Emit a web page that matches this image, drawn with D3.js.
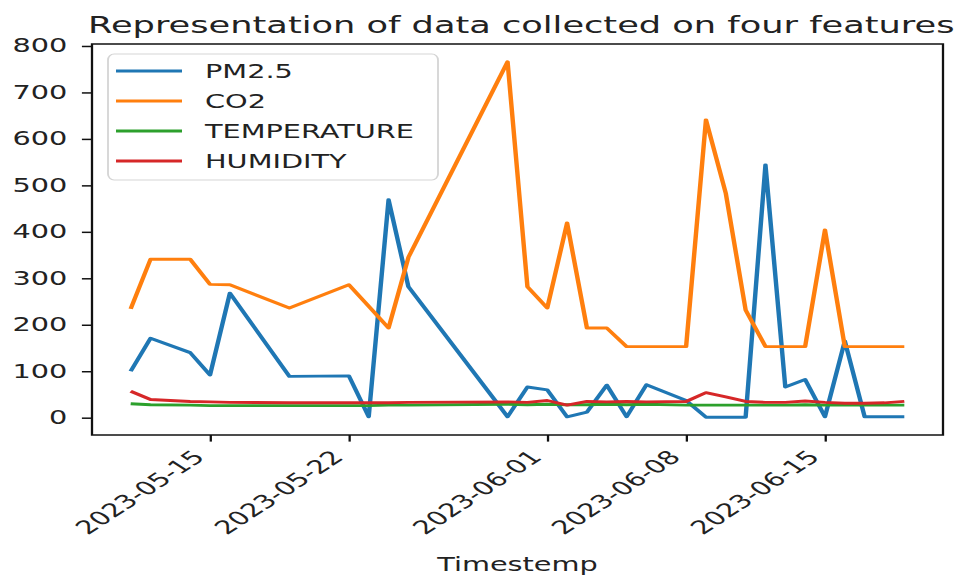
<!DOCTYPE html>
<html>
<head>
<meta charset="utf-8">
<script src="https://cdn.jsdelivr.net/npm/d3@7"></script>
<style>
  html, body { margin: 0; padding: 0; background: #fff; }
  svg { display: block; }
  text { font-family: "DejaVu Sans", sans-serif; fill: #222; }
</style>
</head>
<body>
<svg id="chart" width="973" height="581"></svg>
<script>
// Daily readings of the four sensor features
const dates = ["2023-05-11","2023-05-12","2023-05-14","2023-05-15","2023-05-16","2023-05-19",
  "2023-05-22","2023-05-23","2023-05-24","2023-05-25","2023-05-30","2023-05-31","2023-06-01",
  "2023-06-02","2023-06-03","2023-06-04","2023-06-05","2023-06-06","2023-06-08","2023-06-09",
  "2023-06-10","2023-06-11","2023-06-12","2023-06-13","2023-06-14","2023-06-15","2023-06-16",
  "2023-06-17","2023-06-18","2023-06-19"];
const pm25 = [100,171,140,92,268,89,90,2,469,282,2,66,60,2,12,70,2,71,37,1,1,1,544,66,82,2,165,2,2,2];
const co2 = [234,341,341,287,286,236,286,240,193,345,766,282,236,419,193,193,153,153,153,641,483,232,153,153,153,404,153,153,153,153];
const temperature = [30,28,27,26,26,26,26,26,27,27,29,28,29,28,28,29,28,29,27,27,27,27,27,27,28,27,27,27,27,27];
const humidity = [57,39,35,34,33,32,32,32,32,33,34,33,37,27,35,34,35,34,35,54,45,35,33,33,36,33,31,31,32,35];

const seriesNames = ["PM2.5", "CO2", "TEMPERATURE", "HUMIDITY"];
const seriesColors = ["#1f77b4", "#ff7f0e", "#2ca02c", "#d62728"];
const xTickDates = ["2023-05-15","2023-05-22","2023-06-01","2023-06-08","2023-06-15"];
const yTicks = [0,100,200,300,400,500,600,700,800];
const titleText = "Representation of data collected on four features";
const xLabel = "Timestemp";

// The figure is drawn in a horizontally widened frame
const SX = 1.53;
const plot = { left: 92 / SX, right: 943 / SX, top: 44, bottom: 435 };
const FS = 18.8;

const parse = d3.utcParse("%Y-%m-%d");
const times = dates.map(parse);
const allSeries = [pm25, co2, temperature, humidity];

// 5% margins around the data, like the plotting defaults
const tExt = d3.extent(times);
const tPad = (tExt[1] - tExt[0]) * 0.05;
const x = d3.scaleUtc()
  .domain([new Date(+tExt[0] - tPad), new Date(+tExt[1] + tPad)])
  .range([plot.left, plot.right]);

const vMin = d3.min(allSeries, s => d3.min(s));
const vMax = d3.max(allSeries, s => d3.max(s));
const vPad = (vMax - vMin) * 0.05;
const y = d3.scaleLinear()
  .domain([vMin - vPad, vMax + vPad])
  .range([plot.bottom, plot.top]);

const svg = d3.select("#chart");
const root = svg.append("g").attr("transform", `scale(${SX},1)`);

// Title
root.append("text")
  .attr("x", (plot.left + plot.right) / 2 + 2.5)
  .attr("y", 33)
  .attr("text-anchor", "middle")
  .style("font-size", "23px")
  .text(titleText);

// Data lines
const line = d3.line()
  .x((d, i) => x(times[i]))
  .y(d => y(d));

root.append("g").selectAll("path")
  .data(allSeries)
  .join("path")
  .attr("d", d => line(d))
  .attr("fill", "none")
  .attr("stroke", (d, i) => seriesColors[i])
  .attr("stroke-width", 2.9)
  .attr("stroke-linejoin", "round")
  .attr("stroke-linecap", "butt");

// Axes frame
root.append("rect")
  .attr("x", plot.left).attr("y", plot.top)
  .attr("width", plot.right - plot.left).attr("height", plot.bottom - plot.top)
  .attr("fill", "none").attr("stroke", "#111").attr("stroke-width", 1.5);

// X axis
const xAxis = d3.axisBottom(x)
  .tickValues(xTickDates.map(parse))
  .tickFormat(d3.utcFormat("%Y-%m-%d"))
  .tickSizeInner(6.6).tickSizeOuter(0).tickPadding(0);
const gx = root.append("g").attr("transform", `translate(0,${plot.bottom})`).call(xAxis);
gx.select(".domain").remove();
gx.selectAll(".tick line").attr("stroke", "#111").attr("stroke-width", 1.5);
gx.selectAll(".tick text")
  .attr("text-anchor", "end")
  .attr("y", null).attr("dy", null)
  .attr("transform", `translate(-3.2,${6.6 + 6.6 + 10.1}) rotate(-45)`)
  .style("font-size", FS + "px")
  .style("font-family", "DejaVu Sans, sans-serif")
  .attr("fill", "#222");

// Y axis
const yAxis = d3.axisLeft(y)
  .tickValues(yTicks)
  .tickFormat(d3.format("d"))
  .tickSizeInner(6.6).tickSizeOuter(0).tickPadding(9.5);
const gy = root.append("g").attr("transform", `translate(${plot.left},0)`).call(yAxis);
gy.select(".domain").remove();
gy.selectAll(".tick line").attr("stroke", "#111").attr("stroke-width", 1.5);
gy.selectAll(".tick text")
  .style("font-size", FS + "px")
  .style("font-family", "DejaVu Sans, sans-serif")
  .attr("fill", "#222");

// X axis label
root.append("text")
  .attr("x", (plot.left + plot.right) / 2)
  .attr("y", 571)
  .attr("text-anchor", "middle")
  .style("font-size", FS + "px")
  .text(xLabel);

// Legend
const legend = root.append("g");
legend.append("rect")
  .attr("x", 108 / SX).attr("y", 54)
  .attr("width", (438 - 108) / SX).attr("height", 126)
  .attr("rx", 4).attr("ry", 6)
  .attr("fill", "#fff").attr("fill-opacity", 0.8)
  .attr("stroke", "#d5d5d5").attr("stroke-width", 1.2);

const rowY = d3.scaleLinear().domain([0, 3]).range([71, 161]);
const rows = legend.selectAll("g.row")
  .data(seriesNames)
  .join("g").attr("class", "row")
  .attr("transform", (d, i) => `translate(0,${rowY(i)})`);
rows.append("line")
  .attr("x1", 116 / SX).attr("x2", 182 / SX)
  .attr("stroke", (d, i) => seriesColors[i])
  .attr("stroke-width", 2.9);
rows.append("text")
  .attr("x", 205 / SX)
  .attr("dy", "0.36em")
  .style("font-size", FS + "px")
  .text(d => d);
</script>
</body>
</html>
